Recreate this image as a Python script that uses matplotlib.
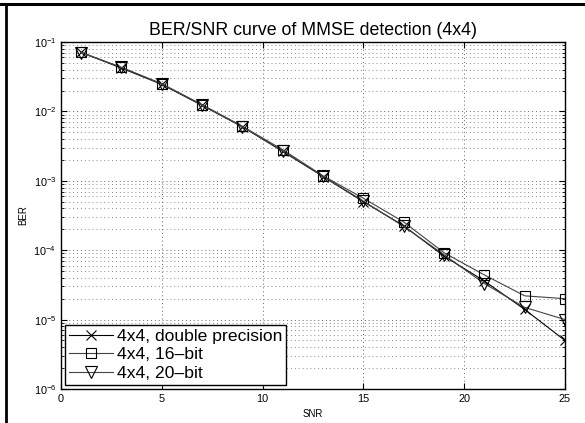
import matplotlib
matplotlib.use("Agg")
import matplotlib.pyplot as plt
from matplotlib.lines import Line2D
import numpy as np

snr = [1, 3, 5, 7, 9, 11, 13, 15, 17, 19, 21, 23, 25]
ber_double = [0.071, 0.042, 0.0245, 0.0122, 0.0060, 0.00265, 0.00115, 0.00050, 0.000225, 8.2e-5, 3.6e-5, 1.4e-5, 5.0e-6]
ber_16bit = [0.071, 0.043, 0.0250, 0.0125, 0.0061, 0.00280, 0.00118, 0.00056, 0.000255, 9.2e-5, 4.4e-5, 2.2e-5, 2.0e-5]
ber_20bit = [0.070, 0.043, 0.0248, 0.0123, 0.0060, 0.00270, 0.00116, 0.00051, 0.000220, 8.6e-5, 3.3e-5, 1.5e-5, 1.0e-5]
labels = ["4x4, double precision", "4x4, 16\u2013bit", "4x4, 20\u2013bit"]

plt.rcParams['font.family'] = ['Liberation Sans', 'DejaVu Sans']
plt.rcParams['mathtext.fontset'] = 'custom'
plt.rcParams['mathtext.rm'] = 'Liberation Sans'

fig = plt.figure(figsize=(5.85, 4.23), dpi=100)
ax = fig.add_axes([61/585, 1-389/423, (565-61)/585, (389-42)/423])

ax.semilogy(snr, ber_double, color='black', lw=0.8, marker='x', ms=6.5, mew=0.8, label=labels[0])
ax.semilogy(snr, ber_16bit, color='#444444', lw=0.8, marker='s', ms=7.5, mfc='none', mec='black', mew=0.8, label=labels[1])
ax.semilogy(snr, ber_20bit, color='#444444', lw=0.8, marker='v', ms=8.5, mfc='none', mec='black', mew=0.8, label=labels[2])

ax.set_xlim(0, 25)
ax.set_ylim(1e-6, 1e-1)
ax.set_xticks([0, 5, 10, 15, 20, 25])
ax.grid(True, which='major', ls=(0, (1, 3)), color='#666666', lw=0.7)
ax.grid(True, which='minor', axis='y', ls=(0, (1, 3)), color='#888888', lw=0.7)
ax.tick_params(which='both', direction='in', top=True, right=True, labelsize=7.8)
ax.tick_params(which='major', length=4)
ax.tick_params(which='minor', length=2)
for s in ax.spines.values():
    s.set_linewidth(1.0)

ax.set_title("BER/SNR curve of MMSE detection (4x4)", fontsize=12.8, pad=5)
ax.set_xlabel("SNR", fontsize=7)
ax.set_ylabel("BER", fontsize=7)

leg = ax.legend(loc='lower left', fontsize=12.6, frameon=True, fancybox=False,
                edgecolor='black', framealpha=1, borderpad=0.2, labelspacing=0.2,
                handlelength=2.5, handletextpad=0.25, borderaxespad=0.25)
leg.get_frame().set_linewidth(1.0)

fig.add_artist(Line2D([0, 1], [1-4.5/423, 1-4.5/423], transform=fig.transFigure, color='black', lw=2.2))
fig.add_artist(Line2D([6/585, 6/585], [0, 1-4.5/423], transform=fig.transFigure, color='black', lw=2.0))

fig.savefig("out.png", dpi=100)
